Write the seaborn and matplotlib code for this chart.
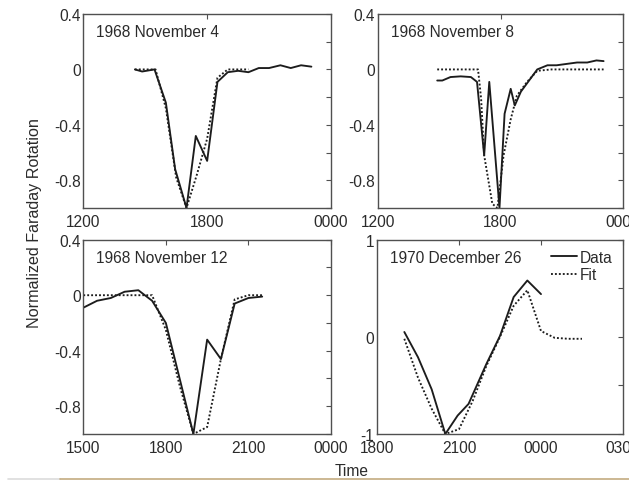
import numpy as np
import pandas as pd
import matplotlib
matplotlib.use("Agg")
import matplotlib.pyplot as plt
from matplotlib.lines import Line2D
import seaborn as sns

# ---- Faraday rotation events: times in hours (UT), values normalized ----
nov4_data_t = [14.5, 14.85, 15.45, 16.0, 16.45, 17.0, 17.45, 18.0, 18.5, 19.0,
               19.5, 20.0, 20.5, 21.0, 21.55, 22.05, 22.55, 23.05]
nov4_data = [0.0, -0.015, 0.0, -0.24, -0.72, -1.0, -0.48, -0.66, -0.09, -0.02,
             -0.01, -0.02, 0.01, 0.01, 0.03, 0.01, 0.03, 0.02]
nov4_fit_t = [14.5, 15.0, 15.5, 16.0, 16.5, 17.0, 17.5, 18.0, 18.5, 19.0, 19.5, 20.0]
nov4_fit = [0.0, 0.0, 0.0, -0.28, -0.78, -1.0, -0.76, -0.5, -0.06, 0.0, 0.0, 0.0]

nov8_data_t = [14.9, 15.15, 15.55, 16.05, 16.55, 16.85, 17.2, 17.45, 17.95, 18.2,
               18.5, 18.7, 19.0, 19.3, 19.8, 20.3, 20.75, 21.25, 21.75, 22.25,
               22.7, 23.05]
nov8_data = [-0.08, -0.08, -0.055, -0.05, -0.055, -0.09, -0.62, -0.09, -1.0, -0.32,
             -0.14, -0.26, -0.16, -0.1, 0.0, 0.03, 0.03, 0.04, 0.05, 0.05,
             0.065, 0.06]
nov8_fit_t = [14.9, 15.5, 16.0, 16.5, 16.9, 17.05, 17.2, 17.6, 17.85, 18.15,
              18.5, 18.8, 19.3, 19.8, 20.5, 21.0, 21.5, 22.0, 22.5, 23.05]
nov8_fit = [0.0, 0.0, 0.0, 0.0, 0.0, -0.21, -0.62, -0.97, -1.0, -0.62,
            -0.36, -0.19, -0.09, -0.01, 0.0, 0.0, 0.0, 0.0, 0.0, 0.0]

nov12_t = [15.0, 15.5, 16.0, 16.5, 17.0, 17.5, 18.0, 18.5, 19.0, 19.5, 20.0, 20.5, 21.0, 21.5]
nov12_data = [-0.09, -0.04, -0.02, 0.025, 0.036, -0.04, -0.2, -0.6, -1.0, -0.32,
              -0.46, -0.06, -0.02, -0.01]
nov12_fit = [0.0, 0.0, 0.0, 0.0, 0.0, 0.0, -0.25, -0.65, -1.0, -0.95,
             -0.46, -0.03, 0.0, 0.0]

dec26_data_t = [19.0, 19.5, 20.0, 20.5, 20.95, 21.35, 22.0, 22.5, 23.0, 23.5, 24.0]
dec26_data = [0.05, -0.21, -0.54, -1.0, -0.81, -0.69, -0.28, 0.01, 0.41, 0.58, 0.44]
dec26_fit_t = [19.0, 19.5, 20.0, 20.5, 21.0, 21.5, 22.0, 22.5, 23.0, 23.5, 24.0, 24.5, 25.0, 25.5]
dec26_fit = [-0.02, -0.42, -0.74, -1.0, -0.95, -0.66, -0.3, 0.0, 0.32, 0.48,
             0.06, -0.01, -0.02, -0.02]

panel_titles = ["1968 November 4", "1968 November 8", "1968 November 12", "1970 December 26"]
panel_xticks = [[12, 18, 24], [12, 18, 24], [15, 18, 21, 24], [18, 21, 24, 27]]
legend_labels = ["Data", "Fit"]

# ---- style ----
sns.set_style("white")
plt.rcParams["font.family"] = ["Liberation Sans", "DejaVu Sans"]
TXT = "#2b2b2b"
SPINE = "#505050"
LINE = "#1c1c1c"
FS = 11.2
DOT = (0, (1.0, 1.1))

fig = plt.figure(figsize=(6.29, 4.81), dpi=100)
W, H = 629.0, 481.0


def box(x0, x1, y0, y1):
    return [x0 / W, 1 - y1 / H, (x1 - x0) / W, (y1 - y0) / H]


axes = [
    fig.add_axes(box(83.3, 331, 15, 209)),
    fig.add_axes(box(378, 623, 15, 209)),
    fig.add_axes(box(83.3, 331, 240.7, 435)),
    fig.add_axes(box(377, 623, 240.7, 435)),
]

series = [
    (nov4_data_t, nov4_data, nov4_fit_t, nov4_fit),
    (nov8_data_t, nov8_data, nov8_fit_t, nov8_fit),
    (nov12_t, nov12_data, nov12_t, nov12_fit),
    (dec26_data_t, dec26_data, dec26_fit_t, dec26_fit),
]


def hhmm(h):
    return f"{int(h) % 24:02d}00"


for i, (ax, (dt, dv, ft, fv)) in enumerate(zip(axes, series)):
    df_data = pd.DataFrame({"t": dt, "v": dv})
    df_fit = pd.DataFrame({"t": ft, "v": fv})
    sns.lineplot(data=df_data, x="t", y="v", ax=ax, color=LINE, lw=1.35,
                 sort=False, estimator=None, legend=False)
    sns.lineplot(data=df_fit, x="t", y="v", ax=ax, color=LINE, lw=1.35,
                 linestyle=DOT, sort=False, estimator=None, legend=False)

    xt = panel_xticks[i]
    ax.set_xlim(xt[0], xt[-1])
    ax.set_xticks(xt)
    ax.set_xticklabels([hhmm(h) for h in xt])

    if i < 3:
        ax.set_ylim(-1, 0.4)
        yt = np.round(np.arange(-1.0, 0.41, 0.2), 1)
        ax.set_yticks(yt)
        labs = []
        for v in yt:
            if abs(v) < 1e-9:
                labs.append("0")
            elif v in (-0.8, -0.4, 0.4):
                labs.append(f"{v:g}")
            else:
                labs.append("")
        ax.set_yticklabels(labs)
    else:
        ax.set_ylim(-1, 1)
        ax.set_yticks([-1, -0.5, 0, 0.5, 1])
        ax.set_yticklabels(["-1", "", "0", "", "1"])

    ax.set_xlabel("")
    ax.set_ylabel("")
    for s in ax.spines.values():
        s.set_visible(True)
        s.set_color(SPINE)
        s.set_linewidth(1.0)
    ax.tick_params(axis="both", direction="in", length=3.5, width=0.8,
                   color=SPINE, labelcolor=TXT, labelsize=FS,
                   top=True, right=True)
    ax.tick_params(axis="x", pad=4.5)
    ax.tick_params(axis="y", pad=2)

    ax.text(0.052, 0.91, panel_titles[i], transform=ax.transAxes,
            ha="left", va="center", fontsize=FS, color=TXT)

handles = [Line2D([], [], color=LINE, lw=1.35),
           Line2D([], [], color=LINE, lw=1.35, linestyle=DOT)]
axes[3].legend(handles, legend_labels, loc="upper right", frameon=False,
               fontsize=FS, handlelength=1.7, handletextpad=0.2,
               labelspacing=0.15, borderaxespad=0.25, labelcolor=TXT)

fig.text(35 / W, 1 - 223 / H, "Normalized Faraday Rotation", rotation=90,
         ha="center", va="center", fontsize=11.6, color=TXT)
fig.text(352 / W, 1 - 472 / H, "Time", ha="center", va="center",
         fontsize=FS, color=TXT)

# thin rule along the bottom edge
fig.add_artist(Line2D([8 / W, 60 / W], [1.5 / H, 1.5 / H], color="#dcdcdc",
                      lw=1.2, transform=fig.transFigure))
fig.add_artist(Line2D([60 / W, 1.0], [1.5 / H, 1.5 / H], color="#c3ab80",
                      lw=1.2, transform=fig.transFigure))

fig.savefig("out.png", dpi=100, facecolor="white")
